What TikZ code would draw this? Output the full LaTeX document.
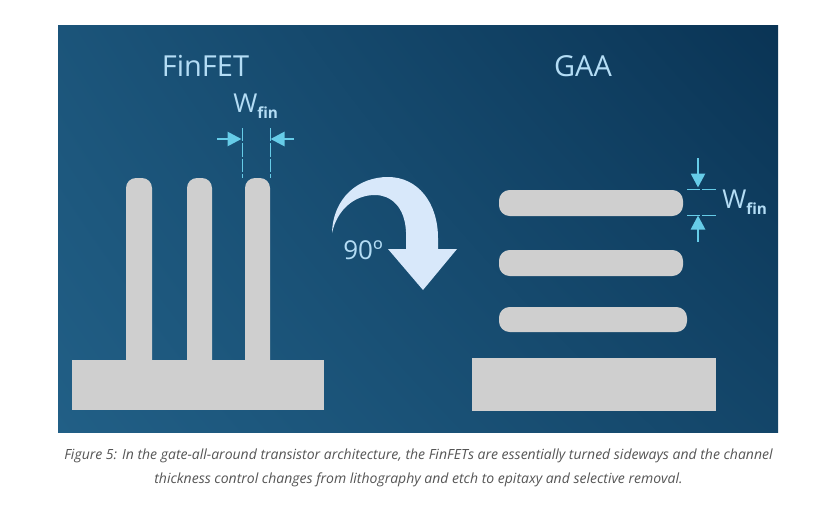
\documentclass[tikz,border=0pt]{standalone}
\usepackage{fontspec}
\setmainfont{Open Sans}
\usetikzlibrary{arrows.meta,shadings}
\definecolor{fingray}{HTML}{CFCFCF}
\definecolor{dimblue}{HTML}{66CCE8}
\definecolor{labelblue}{HTML}{B4DDF5}
\definecolor{arrowblue}{HTML}{D8E8FA}
\definecolor{bgA}{HTML}{215F86}
\definecolor{bgB}{HTML}{0A3455}
\definecolor{captiongray}{HTML}{555555}
\tikzset{
  solidpart/.style={fill=fingray,draw=none},
  dimline/.style={draw=dimblue,line width=0.75pt,dash pattern=on 10pt off 1.5pt},
  dimarrow/.style={draw=dimblue,line width=2pt,-{Triangle[length=10.5pt,width=10.5pt]}},
  bigtitle/.style={text=labelblue,font=\fontsize{21.7}{24}\selectfont,inner sep=0pt},
  wlabel/.style={text=labelblue,inner sep=0pt,anchor=base west},
  captiontext/.style={text=captiongray,font=\fontsize{10.5}{13}\selectfont\itshape,inner sep=0pt},
}
\newcommand{\wfin}{\fontsize{19.5}{20}\selectfont W\raisebox{-4.5pt}{\fontsize{11.5}{14}\selectfont\bfseries fin}}
\begin{document}
\begin{tikzpicture}[x=0.75pt,y=-0.75pt]
\useasboundingbox (0,0) rectangle (825,510);
\fill[white] (0,0) rectangle (825,510);
\shade[lower left=bgA,lower right=bgB!60!bgA,upper left=bgA!75!bgB,upper right=bgB] (58,26) rectangle (778,432);
% FinFET
\fill[solidpart] (126,362) -- (126,250) [rounded corners=7.5pt] -- (126,178) -- (152,178) -- (152,250) [sharp corners] -- (152,362) -- cycle;
\fill[solidpart] (187,362) -- (187,250) [rounded corners=7.5pt] -- (187,178) -- (212,178) -- (212,250) [sharp corners] -- (212,362) -- cycle;
\fill[solidpart] (245,362) -- (245,250) [rounded corners=7.5pt] -- (245,178) -- (270,178) -- (270,250) [sharp corners] -- (270,362) -- cycle;
\fill[solidpart] (72,360) rectangle (324,410);
% GAA
\fill[solidpart,rounded corners=8pt] (499,190) rectangle (683,216);
\fill[solidpart,rounded corners=8pt] (499,250) rectangle (683,276);
\fill[solidpart,rounded corners=8pt] (499,307) rectangle (687,332);
\fill[solidpart] (472,358) rectangle (716,411);
% big arrow
\fill[arrowblue] (332,233) .. controls (333,198) and (358,177) .. (388,177)
  .. controls (418,177) and (438,203) .. (438,238) -- (438,249) -- (457,249) -- (423,290) -- (388,249) -- (406,249) -- (406,232)
  .. controls (405,207) and (391,195) .. (375,195)
  .. controls (354,195) and (337,210) .. (332,233) -- cycle;
% titles
\node[bigtitle] (fintitle) at (205.5,66) {FinFET};
\node[bigtitle] (gaatitle) at (583,66) {GAA};
\node[text=labelblue,inner sep=0pt,font=\fontsize{19.5}{22}\selectfont] (deg) at (363,250.5) {90º};
% width dimensions
\coordinate (fl1) at (242,128); \coordinate (fl1b) at (242,178);
\coordinate (fl2) at (270,128); \coordinate (fl2b) at (270,178);
\draw[dimline] (fl1) -- (fl1b);
\draw[dimline] (fl2) -- (fl2b);
\coordinate (al1) at (217,139); \coordinate (al2) at (241.5,139);
\coordinate (ar1) at (294,139); \coordinate (ar2) at (270.5,139);
\draw[dimarrow] (al1) -- (al2);
\draw[dimarrow] (ar1) -- (ar2);
\coordinate (gl1) at (687,189); \coordinate (gl1b) at (716,189);
\coordinate (gl2) at (687,215); \coordinate (gl2b) at (716,215);
\draw[dimline] (gl1) -- (gl1b);
\draw[dimline] (gl2) -- (gl2b);
\coordinate (at1) at (698,158); \coordinate (at2) at (698,187.5);
\coordinate (ab1) at (698,242); \coordinate (ab2) at (698,215.5);
\draw[dimarrow] (at1) -- (at2);
\draw[dimarrow] (ab1) -- (ab2);
\node[wlabel] (w1) at (233,113) {\wfin};
\node[wlabel] (w2) at (722,208) {\wfin};
% caption
\node[captiontext] (cap1) at (418.5,456) {Figure 5: In the gate-all-around transistor architecture, the FinFETs are essentially turned sideways and the channel};
\node[captiontext] (cap2) at (418.5,480) {thickness control changes from lithography and etch to epitaxy and selective removal.};
\end{tikzpicture}
\end{document}
